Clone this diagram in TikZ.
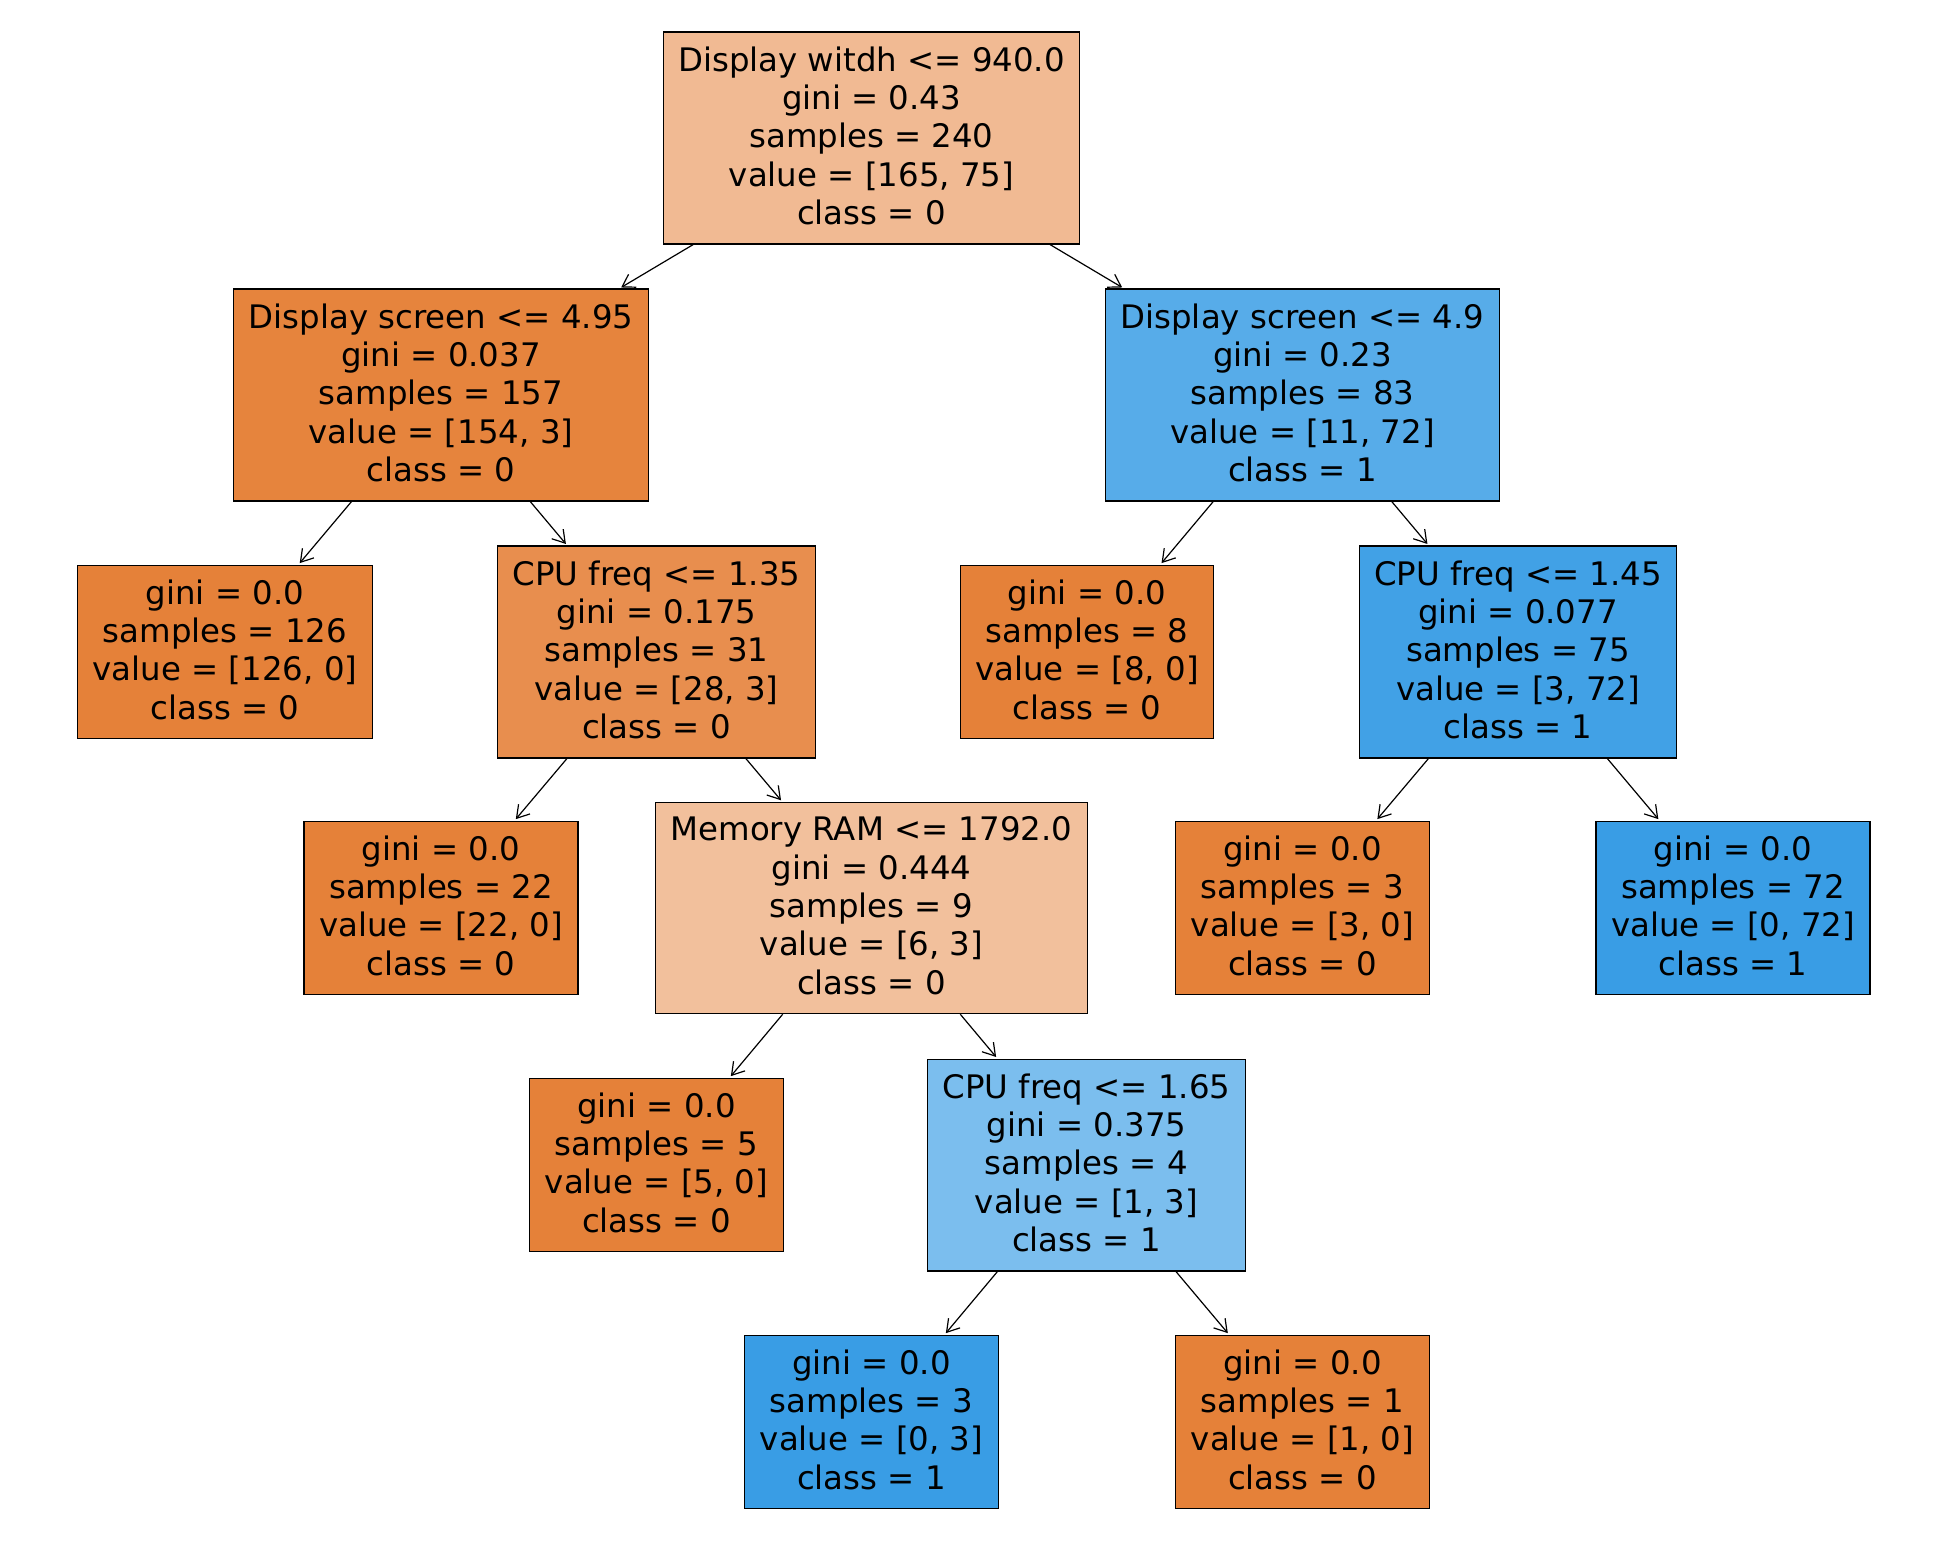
\documentclass[tikz,border=0pt]{standalone}
\usepackage{fontspec}
\setmainfont{DejaVu Sans}
\usetikzlibrary{arrows.meta}
\definecolor{c0}{RGB}{229,129,57}
\definecolor{c1}{RGB}{57,157,229}
\definecolor{croot}{RGB}{241,186,147}
\definecolor{cnA}{RGB}{230,132,61}
\definecolor{cnB}{RGB}{87,172,233}
\definecolor{cnC}{RGB}{232,142,78}
\definecolor{cnD}{RGB}{65,161,230}
\definecolor{cnE}{RGB}{242,192,156}
\definecolor{cnF}{RGB}{123,190,238}
\newcommand\lastfix{\rule[-5pt]{0pt}{5pt}}
\tikzset{
  tbox/.style={draw=black, line width=1.2pt, inner xsep=15pt, inner ysep=14.5pt,
    align=center, font=\fontsize{32.4}{38.3}\selectfont},
  arr/.style={-{Straight Barb[length=12pt,width=15pt,line width=1.2pt]}, line width=1.2pt, shorten >=2pt}
}
\begin{document}
\begin{tikzpicture}[x=1pt,y=1pt]
\useasboundingbox[fill=white] (0,0) rectangle (1957,-1560);
\node[tbox, fill=croot] (root) at (871.5,-138) {Display witdh <= 940.0\\gini = 0.43\\samples = 240\\value = [165, 75]\\class = 0\lastfix};
\node[tbox, fill=cnA] (n1) at (441,-395) {Display screen <= 4.95\\gini = 0.037\\samples = 157\\value = [154, 3]\\class = 0\lastfix};
\node[tbox, fill=cnB] (n2) at (1302.5,-395) {Display screen <= 4.9\\gini = 0.23\\samples = 83\\value = [11, 72]\\class = 1\lastfix};
\node[tbox, fill=c0] (a) at (225,-652) {gini = 0.0\\samples = 126\\value = [126, 0]\\class = 0\lastfix};
\node[tbox, fill=cnC] (b) at (656.5,-652) {CPU freq <= 1.35\\gini = 0.175\\samples = 31\\value = [28, 3]\\class = 0\lastfix};
\node[tbox, fill=c0] (c) at (1087,-652) {gini = 0.0\\samples = 8\\value = [8, 0]\\class = 0\lastfix};
\node[tbox, fill=cnD] (d) at (1518,-652) {CPU freq <= 1.45\\gini = 0.077\\samples = 75\\value = [3, 72]\\class = 1\lastfix};
\node[tbox, fill=c0] (e) at (441,-908) {gini = 0.0\\samples = 22\\value = [22, 0]\\class = 0\lastfix};
\node[tbox, fill=cnE] (f) at (871.5,-908) {Memory RAM <= 1792.0\\gini = 0.444\\samples = 9\\value = [6, 3]\\class = 0\lastfix};
\node[tbox, fill=c0] (g) at (1302.5,-908) {gini = 0.0\\samples = 3\\value = [3, 0]\\class = 0\lastfix};
\node[tbox, fill=c1] (h) at (1733,-908) {gini = 0.0\\samples = 72\\value = [0, 72]\\class = 1\lastfix};
\node[tbox, fill=c0] (i) at (656.5,-1165) {gini = 0.0\\samples = 5\\value = [5, 0]\\class = 0\lastfix};
\node[tbox, fill=cnF] (j) at (1086.5,-1165) {CPU freq <= 1.65\\gini = 0.375\\samples = 4\\value = [1, 3]\\class = 1\lastfix};
\node[tbox, fill=c1] (k) at (871.5,-1422) {gini = 0.0\\samples = 3\\value = [0, 3]\\class = 1\lastfix};
\node[tbox, fill=c0] (l) at (1302.5,-1422) {gini = 0.0\\samples = 1\\value = [1, 0]\\class = 0\lastfix};
\draw[arr] (root) -- (n1);
\draw[arr] (root) -- (n2);
\draw[arr] (n1) -- (a);
\draw[arr] (n1) -- (b);
\draw[arr] (n2) -- (c);
\draw[arr] (n2) -- (d);
\draw[arr] (b) -- (e);
\draw[arr] (b) -- (f);
\draw[arr] (d) -- (g);
\draw[arr] (d) -- (h);
\draw[arr] (f) -- (i);
\draw[arr] (f) -- (j);
\draw[arr] (j) -- (k);
\draw[arr] (j) -- (l);
\end{tikzpicture}
\end{document}
